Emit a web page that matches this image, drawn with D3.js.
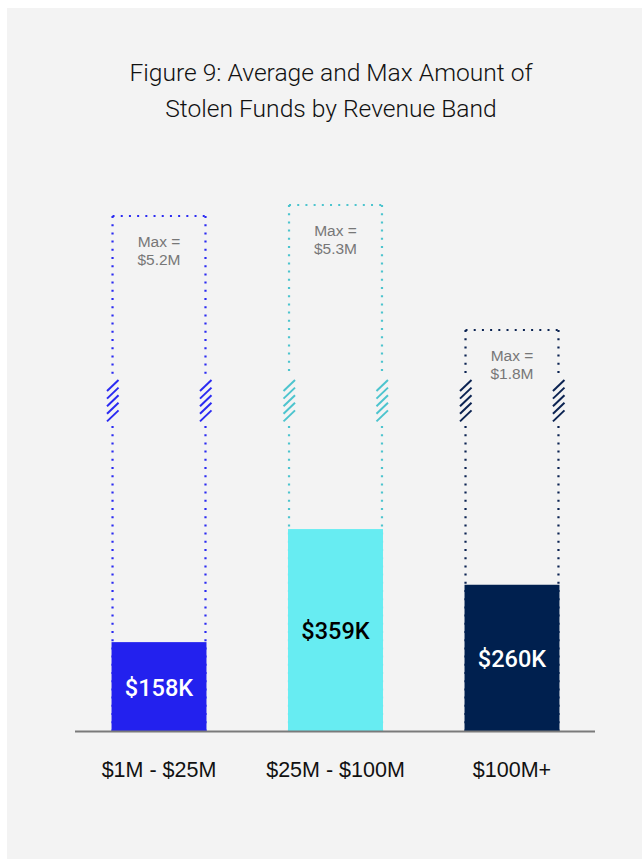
<!DOCTYPE html>
<html>
<head>
<meta charset="utf-8">
<script src="https://cdn.jsdelivr.net/npm/d3@7"></script>
<style>
  body { margin: 0; background: #ffffff; }
  svg { display: block; }
</style>
</head>
<body>
<div id="chart"></div>
<script>
var width = 642, height = 859;

// Data
var bands = ["$1M - $25M", "$25M - $100M", "$100M+"];
var avgValues = [158, 359, 260];          // thousands of dollars
var maxValues = [5.2, 5.3, 1.8];          // millions of dollars
var avgLabels = ["$158K", "$359K", "$260K"];
var maxLabels = ["$5.2M", "$5.3M", "$1.8M"];
var titleLines = ["Figure 9: Average and Max Amount of", "Stolen Funds by Revenue Band"];

// colours
var fillColors = ["#2321ee", "#67ecf2", "#00204f"];
var dotColors  = ["#2a2af2", "#4cc4ce", "#0b2352"];
var textColors = ["#ffffff", "#000000", "#ffffff"];

var baseY = 731;
var breakTop = 377, breakBottom = 426;

var svg = d3.select("#chart").append("svg")
    .attr("width", width)
    .attr("height", height);

// panel
svg.append("rect")
    .attr("x", 7).attr("y", 8)
    .attr("width", width - 7).attr("height", height - 8)
    .attr("fill", "#f3f3f3");

// title
svg.append("g").selectAll("text")
    .data(titleLines)
    .enter().append("text")
    .attr("x", 331)
    .attr("y", function(d, i) { return 81 + i * 36; })
    .attr("text-anchor", "middle")
    .style("font-family", "Roboto, sans-serif")
    .style("font-weight", 300)
    .style("font-size", "24.6px")
    .attr("fill", "#111")
    .text(function(d) { return d; });

// scales
var x = d3.scaleBand()
    .domain(bands)
    .range([75, 596])
    .paddingInner(0.462)
    .paddingOuter(0.207);

// average values, drawn to scale from the baseline
var y = d3.scaleLinear()
    .domain([0, 400])
    .range([baseY, baseY - 400 * 0.5625]);

// max values sit above a broken axis
var sortedMax = maxValues.slice().sort(d3.ascending);
var yMax = d3.scaleLinear()
    .domain(sortedMax)
    .range([330, 216, 205]);

var data = bands.map(function(b, i) {
    return {band: b, avg: avgValues[i], max: maxValues[i], avgLabel: avgLabels[i],
            maxLabel: maxLabels[i], fill: fillColors[i], dot: dotColors[i], text: textColors[i]};
});

var groups = svg.selectAll(".band")
    .data(data)
    .enter().append("g")
    .attr("class", "band");

// dotted max box
groups.each(function(d) {
    var g = d3.select(this);
    var x0 = x(d.band) + 1, x1 = x(d.band) + x.bandwidth() - 1;
    var top = yMax(d.max);
    var dash = {"stroke": d.dot, "stroke-width": 2.2, "stroke-dasharray": "2 6.2", "fill": "none"};

    function seg(path) {
        var p = g.append("path").attr("d", path);
        for (var k in dash) p.attr(k, dash[k]);
    }
    seg("M" + x0 + "," + top + "H" + x1);
    [x0, x1].forEach(function(xx) {
        seg("M" + xx + "," + top + "V" + breakTop);
        seg("M" + xx + "," + breakBottom + "V" + baseY);
        // break marks
        for (var s = 0; s < 5; s++) {
            var yy = 380 + s * 7.6;
            g.append("line")
                .attr("x1", xx - 5.5).attr("y1", yy + 11)
                .attr("x2", xx + 6).attr("y2", yy)
                .attr("stroke", d.dot)
                .attr("stroke-width", 2);
        }
    });

    g.append("text")
        .attr("x", x(d.band) + x.bandwidth() / 2)
        .attr("y", top + 31)
        .attr("text-anchor", "middle")
        .style("font-family", "'Liberation Sans', Arial, sans-serif")
        .style("font-size", "15.5px")
        .attr("fill", "#777")
        .selectAll("tspan")
        .data(["Max =", d.maxLabel])
        .enter().append("tspan")
        .attr("x", x(d.band) + x.bandwidth() / 2)
        .attr("dy", function(t, i) { return i ? 18 : 0; })
        .text(function(t) { return t; });
});

// average bars
groups.append("rect")
    .attr("x", function(d) { return x(d.band); })
    .attr("y", function(d) { return y(d.avg); })
    .attr("width", x.bandwidth())
    .attr("height", function(d) { return y(0) - y(d.avg); })
    .attr("fill", function(d) { return d.fill; });

groups.append("text")
    .attr("x", function(d) { return x(d.band) + x.bandwidth() / 2; })
    .attr("y", function(d) { return (y(d.avg) + y(0)) / 2 + 9; })
    .attr("text-anchor", "middle")
    .style("font-family", "Roboto, 'Liberation Sans', sans-serif")
    .style("font-weight", 500)
    .style("font-size", "23.5px")
    .attr("fill", function(d) { return d.text; })
    .text(function(d) { return d.avgLabel; });

// baseline
svg.append("line")
    .attr("x1", x.range()[0]).attr("x2", x.range()[1] - 1)
    .attr("y1", baseY + 0.5).attr("y2", baseY + 0.5)
    .attr("stroke", "#7a7a7a")
    .attr("stroke-width", 2);

// category labels
svg.append("g").selectAll("text")
    .data(bands)
    .enter().append("text")
    .attr("x", function(d) { return x(d) + x.bandwidth() / 2; })
    .attr("y", 777)
    .attr("text-anchor", "middle")
    .style("font-family", "'Liberation Sans', Arial, sans-serif")
    .style("font-size", "21.5px")
    .attr("fill", "#111")
    .text(function(d) { return d; });
</script>
</body>
</html>
